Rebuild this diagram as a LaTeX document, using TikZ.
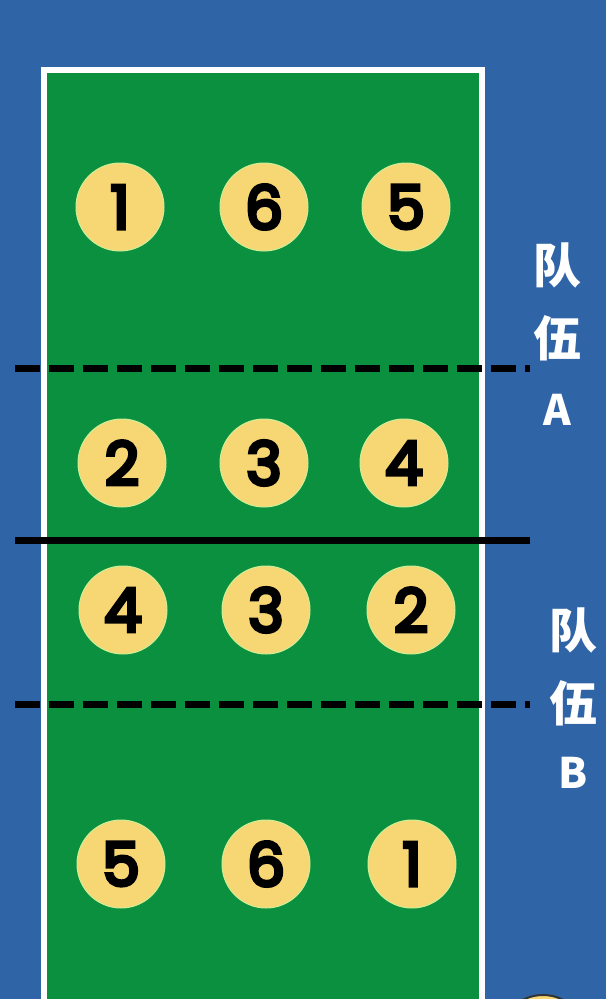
\documentclass[tikz,border=0pt]{standalone}
\usepackage{fontspec}
\usepackage{xcolor}
\newfontfamily\cjk{Noto Sans CJK SC}
\newfontfamily\digitfont{Poppins}[FakeBold=6]

\definecolor{courtblue}{RGB}{47,100,166}
\definecolor{courtgreen}{RGB}{10,144,62}
\definecolor{ballyellow}{RGB}{247,214,116}

\begin{document}
\begin{tikzpicture}[x=1pt,y=-1pt,
  player/.style={circle,fill=ballyellow,draw=ballyellow!70!green!60,line width=1pt,
    minimum size=88pt,inner sep=0pt,font=\digitfont\fontsize{60}{60}\selectfont},
  teamlabel/.style={text=white,font=\cjk\bfseries\fontsize{48}{48}\selectfont},
  netline/.style={line width=7pt,black}]
\useasboundingbox (0,0) rectangle (606,999);
\clip (0,0) rectangle (606,999);
\fill[courtblue] (0,0) rectangle (606,999);

% court
\draw[white,line width=6pt,fill=courtgreen] (44,70) rectangle (482,1020);

% lines
\coordinate (al) at (15,368); \coordinate (ar) at (530,368);
\coordinate (nl) at (15,540); \coordinate (nr) at (530,540);
\coordinate (bl) at (15,704); \coordinate (br) at (530,704);
\draw[netline,dash pattern=on 25pt off 9pt] (al) -- (ar);
\draw[netline] (nl) -- (nr);
\draw[netline,dash pattern=on 25pt off 9pt] (bl) -- (br);

% team A
\node[player] (a1) at (120,207) {1};
\node[player] (a6) at (264,207) {6};
\node[player] (a5) at (406,207) {5};
\node[player] (a2) at (122,463) {2};
\node[player] (a3) at (264,463) {3};
\node[player] (a4) at (404,463) {4};

% team B
\node[player] (b4) at (123,610) {4};
\node[player] (b3) at (266,610) {3};
\node[player] (b2) at (411,610) {2};
\node[player] (b5) at (121,864) {5};
\node[player] (b6) at (266,864) {6};
\node[player] (b1) at (412,864) {1};

% labels
\node[teamlabel] (ta1) at (557,265) {队};
\node[teamlabel] (ta2) at (557,338) {伍};
\node[teamlabel,font=\cjk\bfseries\fontsize{42}{42}\selectfont] (ta3) at (557,410) {A};
\node[teamlabel] (tb1) at (573,630) {队};
\node[teamlabel] (tb2) at (573,703) {伍};
\node[teamlabel,font=\cjk\bfseries\fontsize{42}{42}\selectfont] (tb3) at (573,773) {B};

% ball at the edge
\node[circle,fill=ballyellow,draw=black!80,line width=2pt,minimum size=88pt] (ball) at (543,1039) {};
\end{tikzpicture}
\end{document}
